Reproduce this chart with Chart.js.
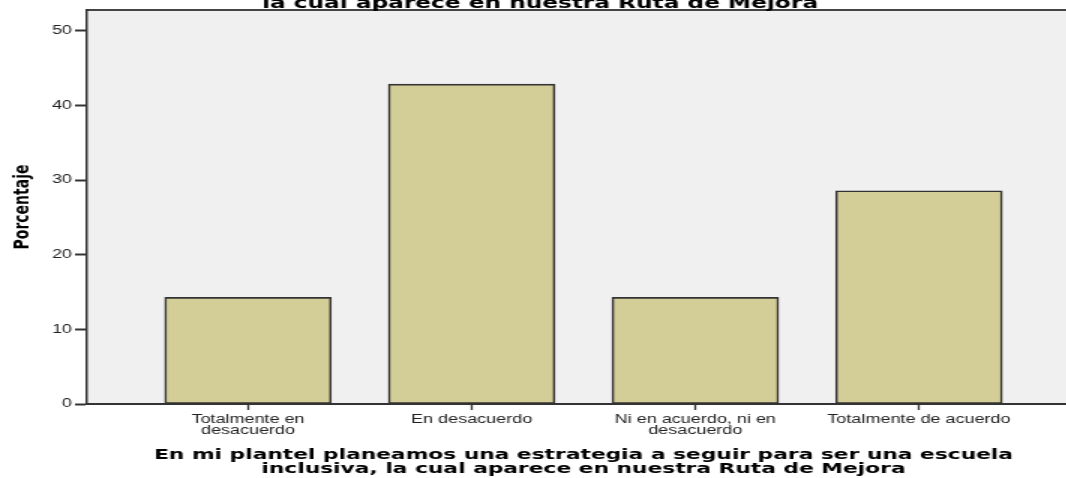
<!DOCTYPE html>
<html lang="es">
<head>
    <meta charset="UTF-8">
    <title>Ruta de Mejora - Porcentaje</title>
    <script src="https://cdn.jsdelivr.net/npm/chart.js"></script>
    <style>
        html, body {
            margin: 0;
            padding: 0;
            background: #fff;
        }

        /* la imagen original viene estirada a lo ancho (x1.5) */
        .marco {
            position: relative;
            width: 1066px;
            height: 478px;
            overflow: hidden;
        }

        .marco canvas {
            position: absolute;
            left: 0;
            top: -20px;
            transform: scaleX(1.5);
            transform-origin: 0 0;
        }
    </style>
</head>
<body>
    <div class="marco">
        <canvas id="grafica" width="720" height="498"></canvas>
    </div>

    <script>
        // Datos
        const categorias = ['Totalmente en desacuerdo', 'En desacuerdo', 'Ni en acuerdo, ni en desacuerdo', 'Totalmente de acuerdo'];
        const etiquetas = [['Totalmente en', 'desacuerdo'], ['En desacuerdo'], ['Ni en acuerdo, ni en', 'desacuerdo'], ['Totalmente de acuerdo']];
        const porcentajes = [14.29, 42.86, 14.29, 28.57];
        const ticksY = [0, 10, 20, 30, 40, 50];

        const titulo = 'la cual aparece en nuestra Ruta de Mejora';
        const tituloX = ['En mi plantel planeamos una estrategia a seguir para ser una escuela', 'inclusiva, la cual aparece en nuestra Ruta de Mejora'];
        const tituloY = 'Porcentaje';

        const fuenteTexto = "'Liberation Sans', Arial, sans-serif";
        const fuenteNegrita = "'DejaVu Sans', Verdana, sans-serif";

        // Fondo gris del área del gráfico y su borde superior
        const fondoArea = {
            id: 'fondoArea',
            beforeDraw(chart) {
                const { ctx, chartArea: a } = chart;
                ctx.save();
                ctx.fillStyle = '#f0f0f0';
                ctx.fillRect(a.left, a.top, a.right - a.left, a.bottom - a.top);
                ctx.strokeStyle = '#444';
                ctx.lineWidth = 2;
                ctx.beginPath();
                ctx.moveTo(a.left, a.top);
                ctx.lineTo(a.right, a.top);
                ctx.stroke();
                ctx.restore();
            }
        };

        const ctx = document.getElementById('grafica').getContext('2d');
        new Chart(ctx, {
            type: 'bar',
            data: {
                datasets: [{
                    label: 'Porcentaje',
                    data: categorias.map((c, i) => ({ x: i, y: porcentajes[i] })),
                    backgroundColor: '#d3ce97',
                    borderColor: '#333',
                    borderWidth: 1.6,
                    borderSkipped: false,
                    barThickness: 111
                }]
            },
            options: {
                responsive: false,
                animation: false,
                layout: { padding: 0 },
                plugins: {
                    legend: { display: false },
                    tooltip: { enabled: false },
                    title: {
                        display: true,
                        text: titulo,
                        color: '#000',
                        font: { family: fuenteNegrita, size: 15.5, weight: 'bold', lineHeight: '12px' },
                        padding: { top: 18, bottom: 0 }
                    }
                },
                scales: {
                    x: {
                        type: 'linear',
                        min: -0.72,
                        max: 3.72,
                        offset: false,
                        afterBuildTicks: (scale) => {
                            scale.ticks = categorias.map((c, i) => ({ value: i }));
                        },
                        afterFit: (scale) => { scale.height = 74; },
                        ticks: {
                            autoSkip: false,
                            maxRotation: 0,
                            padding: 4,
                            color: '#222',
                            font: { family: fuenteTexto, size: 12, lineHeight: '11px' },
                            callback: (v) => etiquetas[v]
                        },
                        grid: {
                            offset: false,
                            drawOnChartArea: false,
                            tickLength: 6,
                            tickColor: '#333',
                            tickWidth: 1.3
                        },
                        border: { display: true, color: '#333', width: 2 },
                        title: {
                            display: true,
                            text: tituloX,
                            color: '#000',
                            font: { family: fuenteNegrita, size: 14.5, weight: 'bold', lineHeight: '14px' },
                            padding: { top: 0, bottom: 1.3 }
                        }
                    },
                    y: {
                        min: 0,
                        max: 52.8,
                        afterBuildTicks: (scale) => {
                            scale.ticks = ticksY.map(v => ({ value: v }));
                        },
                        afterFit: (scale) => { scale.width = 58; },
                        ticks: {
                            padding: 2,
                            color: '#222',
                            font: { family: fuenteTexto, size: 12 }
                        },
                        grid: {
                            drawOnChartArea: false,
                            tickLength: 8,
                            tickColor: '#333',
                            tickWidth: 2
                        },
                        border: { display: true, color: '#333', width: 1.5 },
                        title: {
                            display: true,
                            text: tituloY,
                            color: '#000',
                            font: { family: fuenteNegrita, size: 14, weight: 'bold' },
                            padding: { top: 7, bottom: 0 }
                        }
                    }
                }
            },
            plugins: [fondoArea]
        });
    </script>
</body>
</html>
